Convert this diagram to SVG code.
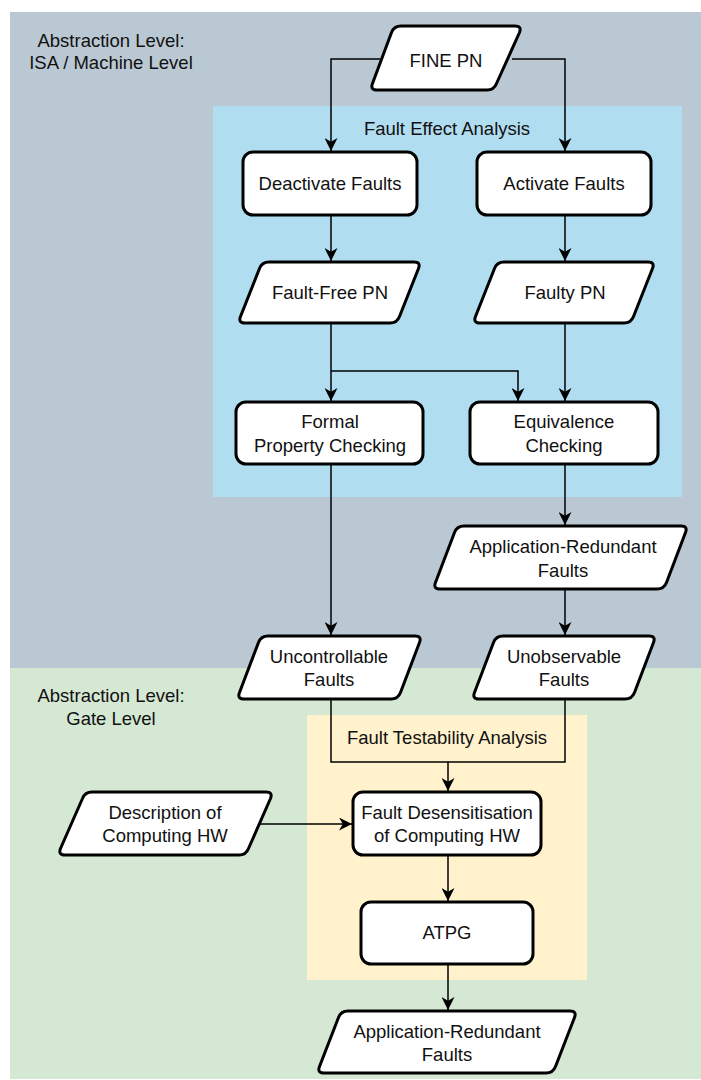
<svg xmlns="http://www.w3.org/2000/svg" width="701" height="1080" viewBox="0 0 701 1080">
  <style>
    text { font-family: "Liberation Sans", Arial, sans-serif; font-size: 18.5px; fill: #111; text-anchor: middle; }
    .node { fill: #ffffff; stroke: #000; stroke-width: 3; stroke-linejoin: round; }
    .edge { fill: none; stroke: #000; stroke-width: 1.5; marker-end: url(#arrow); }
    .plain { fill: none; stroke: #000; stroke-width: 1.5; }
  </style>
  <defs>
    <marker id="arrow" viewBox="0 0 12 12" refX="12" refY="6" markerWidth="13" markerHeight="13" markerUnits="userSpaceOnUse" orient="auto">
      <path d="M0,0 L12,6 L0,12 L3.5,6 Z" fill="#000"/>
    </marker>
  </defs>

  <rect width="701" height="1080" fill="#ffffff"/>

  <!-- abstraction levels and analysis areas -->
  <g id="levels">
    <rect x="10" y="12" width="691" height="656" fill="#bac8d3"/>
    <rect x="10" y="668" width="691" height="411" fill="#d5e8d4"/>
    <text x="111" y="47">Abstraction Level:</text>
    <text x="111" y="69">ISA / Machine Level</text>
    <text x="111" y="702">Abstraction Level:</text>
    <text x="111" y="725">Gate Level</text>
  </g>
  <g id="fault-effect-analysis">
    <rect x="213" y="106" width="469" height="391" fill="#b1ddf0"/>
    <text x="447" y="135">Fault Effect Analysis</text>
  </g>
  <g id="fault-testability-analysis">
    <rect x="307" y="715" width="280" height="265" fill="#fff2cc"/>
    <text x="447" y="744">Fault Testability Analysis</text>
  </g>

  <!-- connectors -->
  <g id="connectors">
    <path class="edge" d="M380 59 L331 59 L331 151"/>
    <path class="edge" d="M512 59 L565 59 L565 151"/>
    <path class="edge" d="M331 215 L331 261"/>
    <path class="edge" d="M565 215 L565 261"/>
    <path class="edge" d="M331 323 L331 401"/>
    <path class="edge" d="M331 371 L518 371 L518 401"/>
    <path class="edge" d="M565 323 L565 401"/>
    <path class="edge" d="M565 464 L565 525"/>
    <path class="edge" d="M565 589 L565 635"/>
    <path class="edge" d="M331 464 L331 635"/>
    <path class="edge" d="M331 699 L331 762 L448 762 L448 791"/>
    <path class="plain" d="M565 699 L565 762 L448 762"/>
    <path class="edge" d="M258 824 L352 824"/>
    <path class="edge" d="M448 855 L448 901"/>
    <path class="edge" d="M448 964 L448 1010"/>
  </g>

  <!-- nodes -->
  <g id="fine-pn">
    <path class="node" d="M401 26 L515 26 Q522 26 519.5 32.5 L496.5 83.5 Q494 90 487 90 L377 90 Q370 90 372.5 83.5 L391.5 32.5 Q394 26 401 26 Z"/>
    <text x="446" y="67">FINE PN</text>
  </g>
  <g id="deactivate-faults">
    <rect class="node" x="243" y="152" width="174" height="63" rx="10"/>
    <text x="330" y="190">Deactivate Faults</text>
  </g>
  <g id="activate-faults">
    <rect class="node" x="477" y="152" width="174" height="63" rx="10"/>
    <text x="564" y="190">Activate Faults</text>
  </g>
  <g id="fault-free-pn">
    <path class="node" d="M269 262 L414 262 Q421 262 418.5 268.5 L399.5 316.5 Q397 323 390 323 L245 323 Q238 323 240.5 316.5 L259.5 268.5 Q262 262 269 262 Z"/>
    <text x="330" y="299">Fault-Free PN</text>
  </g>
  <g id="faulty-pn">
    <path class="node" d="M504 262 L648 262 Q655 262 652.5 268.5 L633.5 316.5 Q631 323 624 323 L480 323 Q473 323 475.5 316.5 L494.5 268.5 Q497 262 504 262 Z"/>
    <text x="565" y="299">Faulty PN</text>
  </g>
  <g id="formal-property-checking">
    <rect class="node" x="236" y="402" width="187" height="62" rx="10"/>
    <text x="330" y="428">Formal</text>
    <text x="330" y="452">Property Checking</text>
  </g>
  <g id="equivalence-checking">
    <rect class="node" x="470" y="402" width="188" height="62" rx="10"/>
    <text x="564" y="428">Equivalence</text>
    <text x="564" y="452">Checking</text>
  </g>
  <g id="application-redundant-faults-isa">
    <path class="node" d="M464 526 L681 526 Q688 526 685.5 532.5 L666.5 582.5 Q664 589 657 589 L440 589 Q433 589 435.5 582.5 L454.5 532.5 Q457 526 464 526 Z"/>
    <text x="563" y="553">Application-Redundant</text>
    <text x="563" y="577">Faults</text>
  </g>
  <g id="uncontrollable-faults">
    <path class="node" d="M268 636 L415 636 Q422 636 419.5 642.5 L400.5 692.5 Q398 699 391 699 L244 699 Q237 699 239.5 692.5 L258.5 642.5 Q261 636 268 636 Z"/>
    <text x="329" y="663">Uncontrollable</text>
    <text x="329" y="686">Faults</text>
  </g>
  <g id="unobservable-faults">
    <path class="node" d="M503 636 L649 636 Q656 636 653.5 642.5 L634.5 692.5 Q632 699 625 699 L479 699 Q472 699 474.5 692.5 L493.5 642.5 Q496 636 503 636 Z"/>
    <text x="564" y="663">Unobservable</text>
    <text x="564" y="686">Faults</text>
  </g>
  <g id="description-of-computing-hw">
    <path class="node" d="M92 792 L266 792 Q273 792 270.5 798.5 L248.5 848.5 Q246 855 239 855 L65 855 Q58 855 60.5 848.5 L82.5 798.5 Q85 792 92 792 Z"/>
    <text x="165" y="819">Description of</text>
    <text x="165" y="842">Computing HW</text>
  </g>
  <g id="fault-desensitisation">
    <rect class="node" x="353" y="792" width="188" height="63" rx="10"/>
    <text x="447" y="819">Fault Desensitisation</text>
    <text x="447" y="842">of Computing HW</text>
  </g>
  <g id="atpg">
    <rect class="node" x="361" y="902" width="172" height="62" rx="10"/>
    <text x="447" y="939">ATPG</text>
  </g>
  <g id="application-redundant-faults-gate">
    <path class="node" d="M348 1011 L570 1011 Q577 1011 574.5 1017.5 L555.5 1066.5 Q553 1073 546 1073 L324 1073 Q317 1073 319.5 1066.5 L338.5 1017.5 Q341 1011 348 1011 Z"/>
    <text x="447" y="1038">Application-Redundant</text>
    <text x="447" y="1061">Faults</text>
  </g>
</svg>
